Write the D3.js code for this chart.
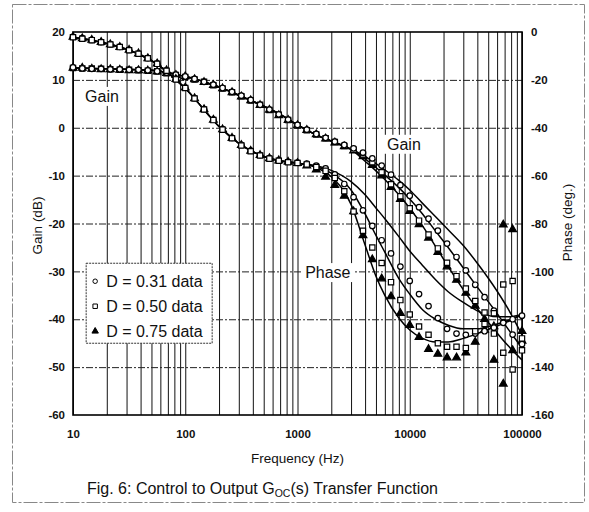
<!DOCTYPE html>
<html>
<head>
<meta charset="utf-8">
<script src="https://cdn.jsdelivr.net/npm/d3@7"></script>
<style>
body { margin: 0; background: #fff; }
svg { display: block; font-family: 'Liberation Sans', Arial, sans-serif; }
.ticks text { font-size: 11.5px; font-weight: bold; fill: #111; }
.ticks path { display: none; }
.grid path { display: none; }
.grid text { display: none; }
.label { font-size: 16px; fill: #111; }
.title { font-size: 13.5px; fill: #111; }
</style>
</head>
<body>
<script>
/* global d3 */
var gainTicks = [20, 10, 0, -10, -20, -30, -40, -50, -60]
var phaseTicks = [0, -20, -40, -60, -80, -100, -120, -140, -160]
var freqTicks = [10, 100, 1000, 10000, 100000]

var series = ['D = 0.31 data', 'D = 0.50 data', 'D = 0.75 data']

// measured points
var freqs = [10, 12.1, 14.7, 17.8, 21.5, 26.1, 31.6, 38.3, 46.4, 56.2, 68.1, 82.5,
  100, 121, 147, 178, 215, 261, 316, 383, 464, 562, 681, 825,
  1000, 1210, 1470, 1780, 2150, 2610, 3160, 3830, 4640, 5620, 6810, 8250,
  10000, 12100, 14700, 17800, 21500, 26100, 31600, 38300, 46400, 56200, 68100, 82500, 100000]

var gain31 = [12.6, 12.4, 12.3, 12.3, 12.2, 12.2, 12.1, 12.1, 12.0, 11.8, 11.5, 11.1,
  10.7, 10.2, 9.6, 9.0, 8.3, 7.5, 6.7, 5.8, 4.8, 3.8, 2.8, 1.7,
  0.6, -0.4, -1.3, -2.1, -2.9, -3.6, -4.3, -5.2, -6.4, -7.9, -9.8, -12.0,
  -14.2, -16.6, -19.0, -21.5, -24.2, -27.0, -29.8, -32.8, -35.4, -38.2, -40.6, -43.2, -45.2]
var gain50 = [12.5, 12.4, 12.4, 12.3, 12.2, 12.1, 12.1, 12.0, 11.9, 11.8, 11.4, 11.0,
  10.6, 10.1, 9.6, 8.9, 8.2, 7.4, 6.6, 5.7, 4.8, 3.7, 2.7, 1.6,
  0.5, -0.5, -1.4, -2.2, -3.0, -3.8, -4.6, -5.6, -7.2, -9.3, -11.8, -14.3,
  -16.8, -19.4, -22.3, -25.2, -28.2, -31.0, -33.6, -36.2, -38.6, -43.0, -47.0, -50.5, -46.5]
var gain75 = [12.5, 12.5, 12.3, 12.2, 12.2, 12.1, 12.0, 12.0, 11.9, 11.7, 11.4, 11.0,
  10.7, 10.1, 9.5, 8.9, 8.2, 7.4, 6.5, 5.7, 4.7, 3.7, 2.6, 1.6,
  0.5, -0.5, -1.4, -2.3, -3.1, -3.9, -4.8, -6.0, -7.8, -10.0, -12.4, -14.9,
  -17.4, -20.2, -23.0, -26.0, -29.0, -31.8, -34.5, -37.2, -40.0, -48.5, -53.5, -46.5, -44.5]

var phase31 = [-2.0, -2.6, -3.3, -4.2, -5.1, -6.2, -7.5, -9.0, -10.9, -13.2, -16.0, -19.6,
  -23.2, -27.6, -32.2, -36.6, -40.6, -44.2, -47.2, -49.6, -51.4, -52.7, -53.6, -54.2,
  -54.6, -55.0, -55.8, -57.0, -59.5, -63.5, -69.0, -74.5, -81.0, -87.0, -92.5, -98.0,
  -104.0, -109.5, -114.5, -119.5, -124.0, -126.0, -126.5, -126.0, -125.0, -123.5, -121.5, -120.0, -118.5]
var phase50 = [-2.2, -2.8, -3.4, -4.3, -5.2, -6.3, -7.6, -9.1, -11.0, -13.3, -16.2, -19.8,
  -23.4, -27.8, -32.4, -36.8, -40.8, -44.4, -47.4, -49.8, -51.6, -52.9, -53.8, -54.4,
  -54.7, -55.3, -56.4, -58.0, -61.0, -66.5, -75.0, -83.0, -90.0, -96.5, -104.5, -112.0,
  -118.0, -123.0, -126.5, -130.0, -131.5, -131.5, -132.0, -125.0, -122.0, -117.5, -105.5, -104.0, -128.0]
var phase75 = [-2.1, -2.7, -3.3, -4.2, -5.2, -6.3, -7.5, -9.0, -11.0, -13.2, -16.1, -19.7,
  -23.3, -27.7, -32.3, -36.7, -40.7, -44.3, -47.3, -49.7, -51.5, -52.8, -53.7, -54.3,
  -54.8, -55.8, -57.5, -60.5, -64.0, -68.5, -75.0, -85.0, -95.0, -103.0, -110.5, -117.5,
  -122.5, -127.5, -132.5, -134.5, -136.0, -136.0, -134.0, -129.5, -124.5, -123.0, -80.5, -82.5, -125.0]

// fitted curves
var fitFreqs = [10, 15, 20, 30, 40, 50, 60, 70, 85, 100, 130, 160, 200, 250, 300, 400, 500, 700, 1000,
  1500, 2000, 3000, 4000, 5000, 6000, 8000, 10000, 13000, 17000, 22000, 30000, 40000, 55000, 75000, 100000]

var fitGain31 = [12.5, 12.4, 12.3, 12.2, 12.1, 12.0, 11.8, 11.5, 11.1, 10.7, 10.0, 9.3, 8.5, 7.6, 6.8, 5.5, 4.5, 2.8, 0.6,
  -1.6, -2.8, -4.5, -6.0, -7.5, -8.8, -11.0, -13.0, -15.8, -18.6, -21.3, -24.6, -28.3, -32.8, -37.8, -43.3]
var fitGain50 = [12.5, 12.4, 12.3, 12.2, 12.1, 12.0, 11.8, 11.5, 11.1, 10.7, 10.0, 9.3, 8.5, 7.6, 6.8, 5.5, 4.5, 2.8, 0.6,
  -1.6, -2.8, -4.5, -6.5, -8.3, -9.9, -12.5, -14.9, -18.0, -21.6, -25.0, -29.3, -33.3, -37.6, -42.0, -46.0]
var fitGain75 = [12.5, 12.4, 12.3, 12.2, 12.1, 12.0, 11.8, 11.5, 11.1, 10.7, 10.0, 9.3, 8.5, 7.6, 6.8, 5.5, 4.5, 2.8, 0.6,
  -1.6, -2.8, -4.5, -7.0, -9.0, -10.8, -14.0, -16.8, -20.5, -24.8, -29.0, -33.8, -37.8, -41.8, -45.5, -48.5]

var fitPhase31 = [-2.2, -3.5, -4.8, -7.2, -9.6, -12.0, -14.5, -17.0, -20.5, -23.5, -29.5, -34.5, -39.5, -43.5, -46.5, -50.0, -52.0, -53.8, -54.8,
  -56.0, -57.8, -62.5, -68.0, -73.5, -78.0, -85.5, -91.5, -97.5, -103.5, -108.5, -113.0, -116.5, -118.8, -119.0, -118.0]
var fitPhase50 = [-2.2, -3.5, -4.8, -7.2, -9.6, -12.0, -14.5, -17.0, -20.5, -23.5, -29.5, -34.5, -39.5, -43.5, -46.5, -50.0, -52.0, -53.8, -54.8,
  -56.3, -59.0, -66.0, -76.0, -85.0, -92.0, -103.0, -109.5, -116.0, -120.0, -122.5, -124.0, -124.0, -122.5, -120.5, -118.0]
var fitPhase75 = [-2.2, -3.5, -4.8, -7.2, -9.6, -12.0, -14.5, -17.0, -20.5, -23.5, -29.5, -34.5, -39.5, -43.5, -46.5, -50.0, -52.0, -53.8, -54.8,
  -56.8, -60.5, -72.0, -89.0, -102.0, -110.0, -119.5, -124.5, -128.0, -129.5, -129.5, -128.0, -126.0, -123.5, -121.0, -118.0]

var margin = {top: 32, right: 67, bottom: 97, left: 73}
var width = 589 - margin.left - margin.right
var height = 512 - margin.top - margin.bottom

var x = d3.scaleLog().domain([10, 100000]).range([0, width])
var yG = d3.scaleLinear().domain([-60, 20]).range([height, 0])
var yP = d3.scaleLinear().domain([-160, 0]).range([height, 0])

var root = d3.select('body').append('svg')
  .attr('width', 589)
  .attr('height', 512)

root.append('rect')
  .attr('x', 12.5).attr('y', 4.5)
  .attr('width', 572).attr('height', 498)
  .attr('fill', 'none')
  .attr('stroke', '#888')
  .attr('stroke-dasharray', '14,2,3,2')

var svg = root.append('g')
  .attr('transform', 'translate(' + margin.left + ',' + margin.top + ')')

svg.append('rect')
  .attr('width', width).attr('height', height)
  .attr('fill', '#fff')

// grid
svg.append('g')
  .attr('class', 'grid')
  .attr('transform', 'translate(0,' + height + ')')
  .call(d3.axisBottom(x).tickValues(x.ticks()).tickSizeInner(-height).tickSizeOuter(0).tickFormat(''))
  .selectAll('line')
  .attr('stroke', '#111')
  .attr('stroke-width', 1)

svg.append('g')
  .attr('class', 'grid')
  .call(d3.axisLeft(yG).tickValues(gainTicks.slice(1, -1)).tickSizeInner(-width).tickSizeOuter(0).tickFormat(''))
  .selectAll('line')
  .attr('stroke', '#222')
  .attr('stroke-dasharray', '7,2,2,2')

svg.append('rect')
  .attr('width', width).attr('height', height)
  .attr('fill', 'none')
  .attr('stroke', '#000')
  .attr('stroke-width', 1.6)

// in-plot labels (placed in gain units)
var notes = [
  {text: 'Gain', f: 12.8, v: 5.4},
  {text: 'Gain', f: 6270, v: -4.6},
  {text: 'Phase', f: 1170, v: -31.4}
]
var note = svg.selectAll('.note')
  .data(notes)
  .enter().append('g')
  .attr('class', 'note')
  .attr('transform', function (d) { return 'translate(' + x(d.f) + ',' + yG(d.v) + ')' })
note.append('text')
  .attr('class', 'label')
  .text(function (d) { return d.text })
  .each(function () {
    var b = this.getBBox()
    d3.select(this.parentNode).insert('rect', 'text')
      .attr('x', b.x - 3).attr('y', b.y - 1)
      .attr('width', b.width + 6).attr('height', b.height + 2)
      .attr('fill', '#fff')
  })

// fitted lines
var lineG = d3.line()
  .x(function (d) { return x(d[0]) })
  .y(function (d) { return yG(d[1]) })
  .curve(d3.curveMonotoneX)
var lineP = d3.line()
  .x(function (d) { return x(d[0]) })
  .y(function (d) { return yP(d[1]) })
  .curve(d3.curveMonotoneX)

function pairs (xs, ys) {
  return xs.map(function (f, i) { return [f, ys[i]] })
}

var fits = [
  {gen: lineG, pts: pairs(fitFreqs, fitGain31)},
  {gen: lineG, pts: pairs(fitFreqs, fitGain50)},
  {gen: lineG, pts: pairs(fitFreqs, fitGain75)},
  {gen: lineP, pts: pairs(fitFreqs, fitPhase31)},
  {gen: lineP, pts: pairs(fitFreqs, fitPhase50)},
  {gen: lineP, pts: pairs(fitFreqs, fitPhase75)}
]

svg.selectAll('.fit')
  .data(fits)
  .enter().append('path')
  .attr('class', 'fit')
  .attr('d', function (d) { return d.gen(d.pts) })
  .attr('fill', 'none')
  .attr('stroke', '#000')
  .attr('stroke-width', 1.5)

// markers
var shapes = [d3.symbolCircle, d3.symbolSquare, d3.symbolTriangle]
var sizes = [24, 28, 26]
var fills = ['#fff', '#fff', '#000']

function drawMarkers (pts, k) {
  svg.append('g')
    .selectAll('path')
    .data(pts)
    .enter().append('path')
    .attr('transform', function (d) { return 'translate(' + d[0] + ',' + d[1] + ')' })
    .attr('d', d3.symbol().type(shapes[k]).size(sizes[k]))
    .attr('fill', fills[k])
    .attr('stroke', '#000')
    .attr('stroke-width', 1.2)
}

var gains = [gain31, gain50, gain75]
var phases = [phase31, phase50, phase75]
// triangles underneath, so open markers stay visible where series overlap
;[2, 1, 0].forEach(function (k) {
  drawMarkers(freqs.map(function (f, i) { return [x(f), yG(gains[k][i])] }), k)
})
;[2, 0, 1].forEach(function (k) {
  drawMarkers(freqs.map(function (f, i) { return [x(f), yP(phases[k][i])] }), k)
})

// axes
svg.append('g')
  .attr('class', 'ticks')
  .call(d3.axisLeft(yG).tickValues(gainTicks).tickSize(0).tickPadding(8).tickFormat(String))

svg.append('g')
  .attr('class', 'ticks')
  .attr('transform', 'translate(' + width + ',0)')
  .call(d3.axisRight(yP).tickValues(phaseTicks).tickSize(0).tickPadding(9).tickFormat(String))

svg.append('g')
  .attr('class', 'ticks')
  .attr('transform', 'translate(0,' + height + ')')
  .call(d3.axisBottom(x).tickValues(freqTicks).tickSize(0).tickPadding(15).tickFormat(String))

svg.append('text')
  .attr('class', 'title')
  .attr('transform', 'translate(-31,' + (height / 2 + 2) + ') rotate(-90)')
  .attr('text-anchor', 'middle')
  .text('Gain (dB)')

svg.append('text')
  .attr('class', 'title')
  .attr('transform', 'translate(' + (width + 50) + ',' + (height / 2 - 1) + ') rotate(-90)')
  .attr('text-anchor', 'middle')
  .text('Phase (deg.)')

svg.append('text')
  .attr('class', 'title')
  .attr('x', width / 2)
  .attr('y', height + 48)
  .attr('text-anchor', 'middle')
  .text('Frequency (Hz)')

// legend
var legend = svg.append('g')
  .attr('transform', 'translate(' + (x(13.1)) + ',' + yG(-28.3) + ')')

legend.append('rect')
  .attr('width', 126)
  .attr('height', 80)
  .attr('fill', '#fff')
  .attr('stroke', '#333')
  .attr('stroke-dasharray', '2,1')

var item = legend.selectAll('.item')
  .data(series)
  .enter().append('g')
  .attr('class', 'item')
  .attr('transform', function (d, i) { return 'translate(0,' + (18 + i * 25) + ')' })

item.append('path')
  .attr('transform', 'translate(9,0)')
  .attr('d', function (d, i) { return d3.symbol().type(shapes[i]).size(sizes[i] - 8)() })
  .attr('fill', function (d, i) { return fills[i] })
  .attr('stroke', '#000')
  .attr('stroke-width', 1)

item.append('text')
  .attr('class', 'label')
  .attr('x', 20)
  .attr('dy', '.35em')
  .text(function (d) { return d })

// caption
var cap = root.append('text')
  .attr('x', 87)
  .attr('y', 494)
  .attr('font-size', 16)
  .attr('fill', '#111')
cap.append('tspan').text('Fig. 6: Control to Output G')
cap.append('tspan').attr('font-size', 10.5).attr('dy', 3).text('OC')
cap.append('tspan').attr('dy', -3).text('(s) Transfer Function')
</script>
</body>
</html>
